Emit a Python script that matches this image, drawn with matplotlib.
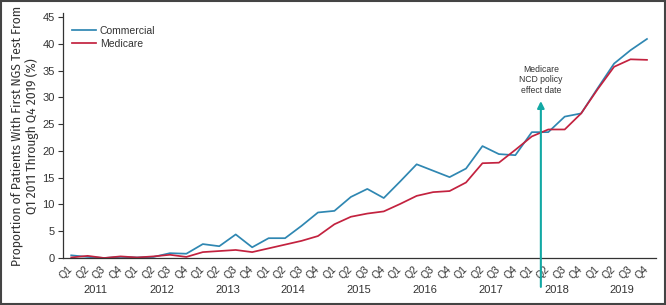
import matplotlib
matplotlib.use("Agg")
import matplotlib.pyplot as plt
from matplotlib.patches import Rectangle
from matplotlib.transforms import ScaledTranslation
from matplotlib import font_manager

years = ["2011", "2012", "2013", "2014", "2015", "2016", "2017", "2018", "2019"]
quarters = ["Q1", "Q2", "Q3", "Q4"]
tick_labels = [q for y in years for q in quarters]

commercial = [0.5, 0.2, 0.0, 0.2, 0.1, 0.2, 0.9, 0.8,
              2.6, 2.2, 4.4, 2.0, 3.7, 3.7, 6.0, 8.5,
              8.8, 11.4, 12.9, 11.2, 14.3, 17.5, 16.3, 15.1,
              16.7, 20.9, 19.4, 19.2, 23.5, 23.5, 26.4, 27.0,
              31.7, 36.3, 38.8, 40.9]
medicare = [0.1, 0.4, 0.0, 0.3, 0.1, 0.3, 0.6, 0.2,
            1.1, 1.3, 1.5, 1.1, 1.8, 2.5, 3.2, 4.1,
            6.3, 7.7, 8.3, 8.7, 10.1, 11.6, 12.3, 12.5,
            14.1, 17.7, 17.8, 20.2, 22.7, 24.0, 24.0, 27.0,
            31.5, 35.7, 37.1, 37.0]

ylabel_text = "Proportion of Patients With First NGS Test From\nQ1 2011 Through Q4 2019 (%)"

regular = "Liberation Sans"
plt.rcParams['font.family'] = [regular, 'DejaVu Sans']

blue = "#2f87b2"
red = "#c3223f"
teal = "#12a8a4"
text_c = "#333333"

fig = plt.figure(figsize=(6.66, 3.05), dpi=100)
ax = fig.add_axes([63/666, (305-258)/305, (656-63)/666, (258-13)/305])

x = list(range(len(tick_labels)))
ax.plot(x, commercial, color=blue, lw=1.25, label="Commercial")
ax.plot(x, medicare, color=red, lw=1.25, label="Medicare")

ax.set_xlim(-0.5, 35.55)
ax.set_ylim(0, 45.75)
ax.set_yticks(range(0, 46, 5))
ax.set_xticks(x)
ax.set_xticklabels(tick_labels, rotation=45, ha='right', va='center', rotation_mode='anchor', fontsize=7.5, color=text_c)
off = ScaledTranslation(4/100, 0, fig.dpi_scale_trans)
for lab in ax.get_xticklabels():
    lab.set_transform(lab.get_transform() + off)
ax.tick_params(axis='x', length=0, pad=7)
ax.tick_params(axis='y', length=3.5, width=0.8, labelsize=8, colors=text_c, pad=2.5)
for s in ['top', 'right']:
    ax.spines[s].set_visible(False)
for s in ['left', 'bottom']:
    ax.spines[s].set_color("#333333")
    ax.spines[s].set_linewidth(0.9)

for i, yr in enumerate(years):
    ax.text(4*i + 1.5, -0.13, yr, transform=ax.get_xaxis_transform(), ha='center', va='center', fontsize=8, color=text_c)

# choose the condensed family whose proportions best match the reference label
names = {f.name for f in font_manager.fontManager.ttflist}
cands = ["Roboto Condensed", "Liberation Sans Narrow", "Archivo Narrow", "Barlow Semi Condensed",
         "Barlow Condensed", "Asap Condensed", "Fira Sans Condensed", "IBM Plex Sans Condensed",
         "PT Sans Narrow", "Encode Sans Condensed", "Open Sans Condensed", "Ubuntu Condensed"]
cands = [c for c in cands if c in names] or [regular]
fig.canvas.draw()
r = fig.canvas.get_renderer()
target_len, target_size = 262.0, 9.0
best, best_err = cands[0], None
for c in cands:
    t = fig.text(0, 0, ylabel_text.split("\n")[0], rotation=90, fontsize=target_size, family=[c, 'DejaVu Sans'])
    hh = t.get_window_extent(r).height
    t.remove()
    err = abs(hh - target_len)
    if best_err is None or err < best_err:
        best, best_err = c, err
narrow = best

ylab = fig.text(24.5/666, (305-136)/305, ylabel_text,
                rotation=90, ha='center', va='center', fontsize=target_size, color=text_c,
                linespacing=1.2, family=[narrow, 'DejaVu Sans'])
fig.canvas.draw()
h = ylab.get_window_extent(r).height
ylab.set_fontsize(target_size * target_len / h)

leg = ax.legend(loc='upper left', frameon=False, fontsize=7.5, handlelength=2.3, handletextpad=0.35,
                labelspacing=0.25, bbox_to_anchor=(0.0, 0.985), labelcolor=text_c)

arrow_x = 28.55
ax.annotate("", xy=(arrow_x, 29.3), xytext=(arrow_x, -5.4), xycoords='data', textcoords='data',
            arrowprops=dict(arrowstyle='-|>', color=teal, lw=1.5, mutation_scale=10, shrinkA=0, shrinkB=0),
            annotation_clip=False)
ax.text(arrow_x, 30.4, "Medicare\nNCD policy\neffect date", ha='center', va='bottom', fontsize=6.2, color=text_c, linespacing=1.25)

fig.add_artist(Rectangle((0.001, 0.002), 0.997, 0.995, transform=fig.transFigure, fill=False, edgecolor="#444444", lw=1.5))

fig.savefig("out.png", dpi=100)
